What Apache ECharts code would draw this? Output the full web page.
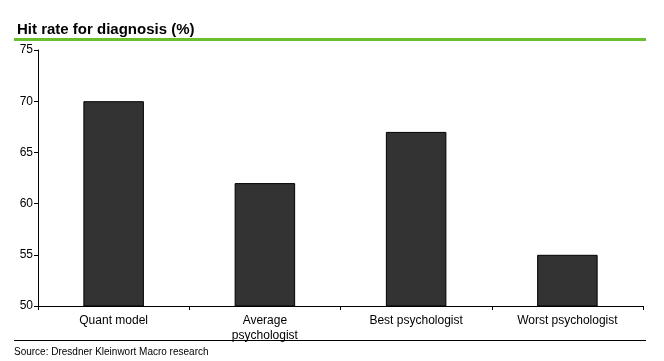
<!DOCTYPE html>
<html><head><meta charset="utf-8">
<script src="https://cdn.jsdelivr.net/npm/echarts@6/dist/echarts.min.js"></script>
<style>html,body{margin:0;padding:0;background:#fff}#c{width:664px;height:361px}</style>
</head><body><div id="c"></div>
<script>
const categories = ['Quant model', 'Average\npsychologist', 'Best psychologist', 'Worst psychologist'];
const hitRate = [70, 62, 67, 55];
const yTicks = [50, 55, 60, 65, 70, 75];
const titleText = 'Hit rate for diagnosis (%)';
const sourceText = 'Source: Dresdner Kleinwort Macro research';

const chart = echarts.init(document.getElementById('c'), null, {renderer: 'canvas'});
chart.setOption({
  animation: false,
  textStyle: {fontFamily: 'Liberation Sans, Arial, sans-serif'},
  title: {
    text: titleText, left: 12, top: 17,
    textStyle: {fontSize: 15, fontWeight: 'bold', color: '#000', fontFamily: 'Liberation Sans, Arial, sans-serif'}
  },
  graphic: [
    {type: 'rect', shape: {x: 14, y: 38, width: 632, height: 3}, style: {fill: '#6abf2e'}},
    {type: 'rect', shape: {x: 14, y: 340, width: 632, height: 1}, style: {fill: '#000'}},
    {type: 'text', left: 14, top: 347, style: {text: sourceText, fontSize: 10, fill: '#000', fontFamily: 'Liberation Sans, Arial, sans-serif'}}
  ],
  grid: {left: 38, right: 21, top: 50, bottom: 55, containLabel: false},
  xAxis: {
    type: 'category', data: categories, boundaryGap: true,
    axisLine: {lineStyle: {color: '#000', width: 1}},
    axisTick: {show: true, length: 4, lineStyle: {color: '#000'}},
    axisLabel: {color: '#000', fontSize: 12, margin: 7, lineHeight: 15, fontFamily: 'Liberation Sans, Arial, sans-serif'}
  },
  yAxis: {
    type: 'value', min: yTicks[0], max: yTicks[yTicks.length - 1], interval: 5,
    axisLine: {show: true, lineStyle: {color: '#000', width: 1}},
    axisTick: {show: true, length: 4, lineStyle: {color: '#000'}},
    splitLine: {show: false},
    axisLabel: {color: '#000', fontSize: 12, margin: 5, fontFamily: 'Liberation Sans, Arial, sans-serif'}
  },
  series: [{
    type: 'bar', data: hitRate, barWidth: '40%',
    itemStyle: {color: '#333333', borderColor: '#000', borderWidth: 1}
  }]
});
</script></body></html>
